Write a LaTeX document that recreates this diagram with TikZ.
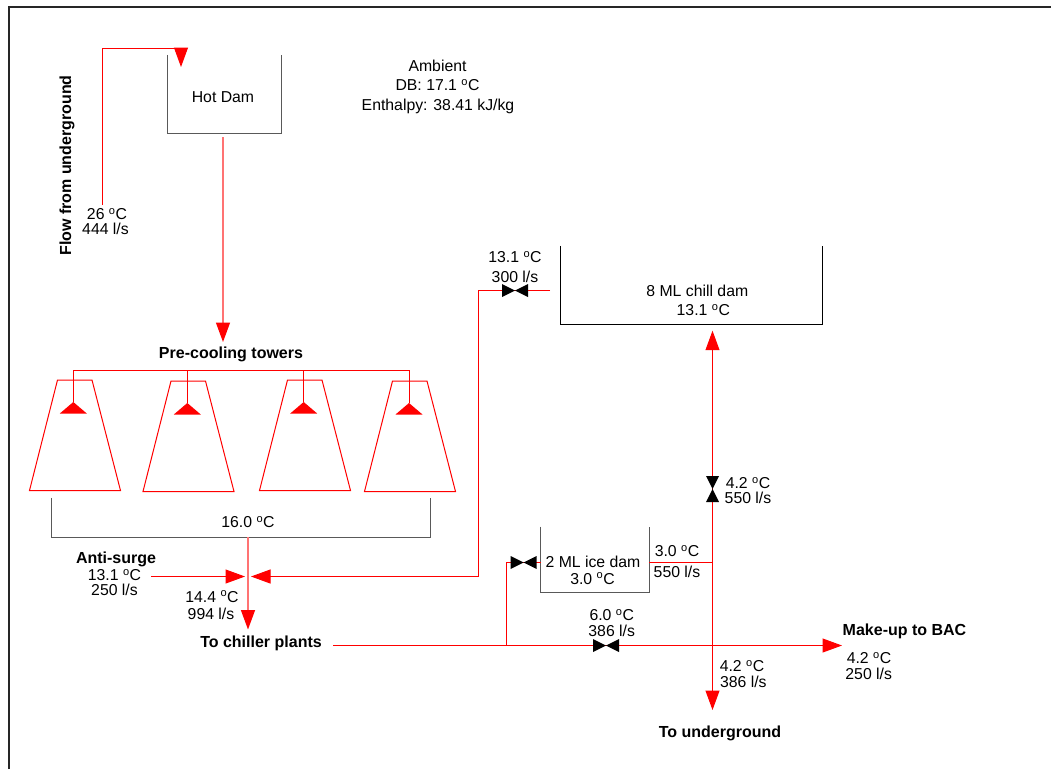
\documentclass[tikz,border=0pt]{standalone}
\usepackage{fontspec}
\setmainfont{Liberation Sans}
\usetikzlibrary{arrows.meta}
\newcommand{\degC}{\textsuperscript{o}C}

\begin{document}
\begin{tikzpicture}[
  x=1pt,
  y=-1pt,
  font=\fontsize{15.8}{18}\selectfont,
  pipe/.style={draw=red, line width=1pt},
  arr/.style={
    pipe,
    -{Triangle[length=19.5pt,width=14pt,color=red]}
  },
  palearr/.style={arr, draw=red!55, line width=1.4pt},
  dam/.style={
    draw=none,
    inner sep=0pt
  },
  wall/.style={draw=black!65, line width=1.1pt},
  lab/.style={
    inner sep=0pt,
    text height=11pt,
    text depth=0pt,
    text=black
  },
  boldlab/.style={lab, font=\fontsize{16}{18}\selectfont\bfseries},
  valveh/.style={
    draw=none,
    inner sep=0pt,
    minimum width=26pt,
    minimum height=13pt,
    path picture={
      \fill[black] (path picture bounding box.north west)
        -- (path picture bounding box.south east)
        -- (path picture bounding box.north east)
        -- (path picture bounding box.south west) -- cycle;
    }
  },
  valvev/.style={
    draw=none,
    inner sep=0pt,
    minimum width=13pt,
    minimum height=26pt,
    path picture={
      \fill[black] (path picture bounding box.north west)
        -- (path picture bounding box.north east)
        -- (path picture bounding box.south west)
        -- (path picture bounding box.south east) -- cycle;
    }
  }
]

\useasboundingbox (0,0) rectangle (1051,769);

% Frame
\draw[black!85, line width=1.2pt] (9,769) -- (9,7) -- (1051,7);

% Dams
\node[dam, minimum width=113.5pt, minimum height=78pt] (hotdam) at (224.2,94) {};
\node[dam, minimum width=378pt, minimum height=39pt] (basin) at (241,517.5) {};
\node[dam, minimum width=261.5pt, minimum height=78.5pt] (chilldam) at (691.5,285.2) {};
\node[dam, minimum width=108.5pt, minimum height=65pt] (icedam) at (594.9,559.4) {};

\draw[wall] (hotdam.north west) -- (hotdam.south west) -- (hotdam.south east) -- (hotdam.north east);
\draw[wall] (basin.north west) -- (basin.south west) -- (basin.south east) -- (basin.north east);
\draw[wall, black] (chilldam.north west) -- (chilldam.south west) -- (chilldam.south east) -- (chilldam.north east);
\draw[wall] (icedam.north west) -- (icedam.south west) -- (icedam.south east) -- (icedam.north east);

% Towers and spray heads
\coordinate (hdr1) at (73.3,370);
\coordinate (hdr4) at (409,370);
\draw[pipe] (hdr1) -- (hdr4);

\foreach \i/\tx/\ty/\nx in {1/29.5/380/73.3, 2/143/381/187.3, 3/259.5/380/303.7, 4/364.5/381/409}{
  \draw[pipe] (\tx,\ty+110.5) -- (\tx+28,\ty) -- (\tx+62.5,\ty) -- (\tx+91,\ty+110.5) -- cycle;
  \coordinate (hdrtap\i) at (\nx,370);
  \coordinate (spray\i) at (\nx,\ty+22);
  \draw[pipe] (hdrtap\i) -- (spray\i);
  \fill[red] (spray\i) -- ++(13.5,11.5) -- ++(-27,0) -- cycle;
}

% Free ends and junctions
\coordinate (ugstart) at (102.5,205);
\coordinate (ugcorner) at (102.5,48);
\coordinate (hotin) at (181,67);
\coordinate (hotout) at (223,137);
\coordinate (towersin) at (223,342);
\coordinate (basinout) at (248,537);
\coordinate (chillertip) at (248,629.5);
\coordinate (surgestart) at (151,576.5);
\coordinate (surgetip) at (245,576.5);
\coordinate (returntip) at (251,576.5);
\coordinate (returncorner) at (478.5,576.5);
\coordinate (chillcorner) at (478.5,290.5);
\coordinate (chillend) at (550,290.5);
\coordinate (plantstart) at (333,645.5);
\coordinate (baccap) at (842,645.5);
\coordinate (icetap) at (506.5,645.5);
\coordinate (icecorner) at (506.5,562.5);
\coordinate (iceleft) at (540.7,562.5);
\coordinate (iceright) at (649,562.5);
\coordinate (icejoin) at (712.5,562.5);
\coordinate (chilltip) at (712.5,330.7);
\coordinate (ugtip) at (712.5,710);

% Pipes
\draw[arr] (ugstart) -- (ugcorner) -- (181,48) -- (hotin);
\draw[palearr] (hotout) -- (towersin);
\draw[palearr] (basinout) -- (chillertip);
\draw[arr] (surgestart) -- (surgetip);
\draw[arr] (chillend) -- (chillcorner) -- (returncorner) -- (returntip);
\draw[arr] (plantstart) -- (baccap);
\draw[pipe] (icetap) -- (icecorner) -- (iceleft);
\draw[pipe] (iceright) -- (icejoin);
\draw[arr] (icejoin) -- (chilltip);
\draw[arr] (icejoin) -- (ugtip);

% Valves
\node[valveh] (chillvalve) at (515,290.5) {};
\node[valveh] (icevalve) at (523.7,562.5) {};
\node[valveh] (plantvalve) at (606,645.5) {};
\node[valvev] (risevalve) at (712.5,489) {};

% Labels
\foreach \lx/\ly/\ltxt [count=\i] in {
  223/97/{Hot Dam},
  437.5/66/{Ambient},
  437.5/85/{DB: 17.1 \degC},
  438/105/{Enthalpy: 38.41 kJ/kg},
  107/214/{26 \degC},
  105.5/228.5/{444 l/s},
  248/522/{16.0 \degC},
  114.5/575/{13.1 \degC},
  114.5/590/{250 l/s},
  212/596.5/{14.4 \degC},
  211/614/{994 l/s},
  515/257/{13.1 \degC},
  515/276.7/{300 l/s},
  697.3/291/{8 ML chill dam},
  703.3/310/{13.1 \degC},
  748/483/{4.2 \degC},
  748/498/{550 l/s},
  593/562/{2 ML ice dam},
  592.5/578.5/{3.0 \degC},
  677/551/{3.0 \degC},
  677/572/{550 l/s},
  611.7/615/{6.0 \degC},
  611.7/630.7/{386 l/s},
  742/666/{4.2 \degC},
  743.3/681.7/{386 l/s},
  869/658/{4.2 \degC},
  868.7/674/{250 l/s}
}{
  \node[lab] (lab\i) at (\lx,\ly) {\ltxt};
}

\node[boldlab] (precool) at (231,353) {Pre-cooling towers};
\node[boldlab] (antisurge) at (116,558) {Anti-surge};
\node[boldlab] (chillers) at (261,641.5) {To chiller plants};
\node[boldlab] (makeup) at (904.5,629.5) {Make-up to BAC};
\node[boldlab] (tounder) at (720,731.5) {To underground};
\node[boldlab, rotate=90] (flowug) at (65.5,165.5) {Flow from underground};

\end{tikzpicture}
\end{document}
